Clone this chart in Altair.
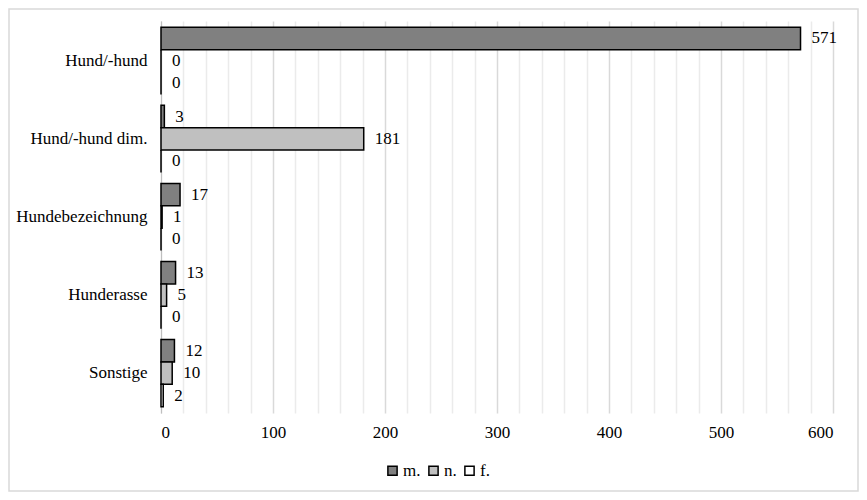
import altair as alt
import pandas as pd

categories = ["Hund/-hund", "Hund/-hund dim.", "Hundebezeichnung", "Hunderasse", "Sonstige"]
series = ["m.", "n.", "f."]
m_vals = [571, 3, 17, 13, 12]
n_vals = [0, 181, 1, 5, 10]
f_vals = [0, 0, 0, 0, 2]
colors = ["#808080", "#c0c0c0", "#ffffff"]
x_ticks = list(range(0, 601, 20))

rows = []
for i, c in enumerate(categories):
    for s, vals in zip(series, [m_vals, n_vals, f_vals]):
        rows.append({"cat": c, "ser": s, "val": vals[i]})
df = pd.DataFrame(rows)

W, H = 672, 392
PL, PT, PR, PB = 153, 13, 26, 79
FONT = "Liberation Serif"
FS = 17

y_enc = alt.Y("cat:N", sort=categories,
              scale=alt.Scale(paddingInner=0.14, paddingOuter=0.08),
              axis=alt.Axis(title=None, ticks=False, labelFontSize=FS, labelColor="black",
                            labelFont=FONT, labelPadding=14, domainColor="#bfbfbf",
                            domainWidth=1, grid=False))
yoff = alt.YOffset("ser:N", sort=series, scale=alt.Scale(paddingInner=0, paddingOuter=0))
x_enc = alt.X("val:Q", scale=alt.Scale(domain=[0, 600], nice=False),
              axis=alt.Axis(title=None, values=x_ticks, ticks=False, domain=False,
                            labelOverlap=False,
                            labelExpr="datum.value % 100 === 0 ? datum.label : ''",
                            labelFontSize=FS, labelColor="black", labelFont=FONT,
                            labelPadding=11,
                            gridColor={"condition": {"test": "datum.value % 100 === 0", "value": "#d9d9d9"},
                                       "value": "#ebebeb"},
                            gridWidth=1.5))

bars = alt.Chart(df).mark_bar(stroke="black", strokeWidth=1.5).encode(
    y=y_enc, yOffset=yoff, x=x_enc,
    color=alt.Color("ser:N", sort=series,
                    scale=alt.Scale(domain=series, range=colors),
                    legend=alt.Legend(title=None, orient="none", direction="horizontal",
                                      legendX=223, legendY=441, symbolType="square",
                                      symbolSize=85, symbolStrokeColor="black",
                                      symbolStrokeWidth=1.5, labelFontSize=FS,
                                      labelFont=FONT, labelColor="black",
                                      columnPadding=4, labelOffset=2, symbolOffset=0)),
)

labels = alt.Chart(df).mark_text(align="left", baseline="middle", dx=11, fontSize=FS,
                                 font=FONT, color="black").encode(
    y=y_enc, yOffset=yoff, x=x_enc,
    text=alt.Text("val:Q"),
)

frame = alt.Chart(pd.DataFrame({"a": [0]})).mark_rect(fill=None, stroke="#d9d9d9", strokeWidth=1.5).encode(
    x=alt.value(-PL + 1), x2=alt.value(W + PR - 1),
    y=alt.value(-PT + 1), y2=alt.value(H + PB - 1),
)

chart = alt.layer(frame, bars, labels).properties(
    width=W, height=H,
    autosize=alt.AutoSizeParams(type="none"),
    padding={"left": PL, "top": PT, "right": PR, "bottom": PB},
    background="white",
).configure_view(stroke=None)

chart.save("out.html", embed_options={"renderer": "svg", "actions": False})
